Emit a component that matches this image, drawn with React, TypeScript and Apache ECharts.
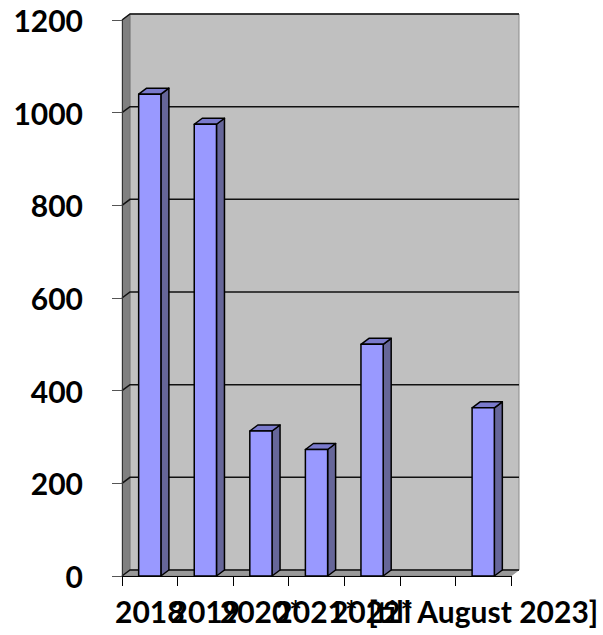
import React, { useEffect, useRef } from "react";
import * as echarts from "echarts";

const categories = ["2018", "2019", "2020*", "2021*", "2022*", "", "[till August 2023]"];
const values: (number | null)[] = [1040, 975, 313, 273, 500, null, 363];
const yTicks = [0, 200, 400, 600, 800, 1000, 1200];

const DX = 8;
const DY = -6;
const FONT = "Lato, 'Open Sans', sans-serif";

export default function App() {
  const ref = useRef<HTMLDivElement>(null);
  useEffect(() => {
    if (!ref.current) return;
    const chart = echarts.init(ref.current, undefined, { renderer: "svg" });
    const barData = values
      .map((v, i) => (v == null ? null : [i, v]))
      .filter((d) => d !== null);
    chart.setOption({
      animation: false,
      backgroundColor: "#ffffff",
      grid: { left: 122, right: 92, top: 20, bottom: 59, containLabel: false },
      xAxis: {
        type: "category",
        data: categories,
        boundaryGap: true,
        z: 5,
        axisLine: { show: true, lineStyle: { color: "#000", width: 1 } },
        axisTick: { show: true, length: 10, alignWithLabel: false, interval: 0, lineStyle: { color: "#000" } },
        axisLabel: {
          interval: 0,
          color: "#000",
          fontSize: 30,
          fontWeight: "bold",
          fontFamily: FONT,
          margin: 20,
        },
        splitLine: { show: false },
      },
      yAxis: {
        type: "value",
        min: 0,
        max: 1200,
        interval: 200,
        z: 5,
        axisLine: { show: true, lineStyle: { color: "#333", width: 1 } },
        axisTick: { show: true, length: 10, lineStyle: { color: "#555" } },
        axisLabel: {
          color: "#000",
          fontSize: 30,
          fontWeight: "bold",
          fontFamily: FONT,
          margin: 39,
          formatter: (v: number) => String(v),
        },
        splitLine: { show: false },
      },
      series: [
        {
          type: "custom",
          name: "walls",
          z: 1,
          clip: false,
          silent: true,
          data: [[0, 0]],
          renderItem: (params: any, api: any) => {
            const cs = params.coordSys;
            const x = cs.x, y = cs.y, w = cs.width, h = cs.height;
            return {
              type: "group",
              children: [
                {
                  type: "rect",
                  shape: { x: x + DX, y: y + DY, width: w, height: h },
                  style: { fill: "#c0c0c0", stroke: "#8a8a8a", lineWidth: 1 },
                },
                {
                  type: "polygon",
                  shape: { points: [[x, y], [x + DX, y + DY], [x + DX, y + h + DY], [x, y + h]] },
                  style: { fill: "#808080", stroke: "#666", lineWidth: 0.5 },
                },
                {
                  type: "polygon",
                  shape: { points: [[x, y + h], [x + DX, y + h + DY], [x + w + DX, y + h + DY], [x + w, y + h]] },
                  style: { fill: "#999999", stroke: "#777", lineWidth: 0.5 },
                },
              ],
            };
          },
        },
        {
          type: "custom",
          name: "gridlines",
          z: 2,
          clip: false,
          silent: true,
          data: yTicks.map((v) => [0, v]),
          renderItem: (params: any, api: any) => {
            const cs = params.coordSys;
            const x = cs.x, w = cs.width;
            const yy = api.coord([0, api.value(1)])[1];
            return {
              type: "polyline",
              shape: { points: [[x, yy], [x + DX, yy + DY], [x + w + DX, yy + DY]] },
              style: { stroke: "#111", lineWidth: 1.5, fill: "none" },
            };
          },
        },
        {
          type: "custom",
          name: "bars",
          z: 3,
          clip: false,
          data: barData,
          renderItem: (params: any, api: any) => {
            const idx = api.value(0);
            const [cx, yTop] = api.coord([idx, api.value(1)]);
            const yBot = api.coord([idx, 0])[1];
            const bw = api.size([1, 0])[0] * 0.4;
            const x0 = cx - bw / 2, x1 = cx + bw / 2;
            const line = { stroke: "#000", lineWidth: 1.5, lineJoin: "round" };
            return {
              type: "group",
              children: [
                {
                  type: "polygon",
                  shape: { points: [[x1, yTop], [x1 + DX, yTop + DY], [x1 + DX, yBot + DY], [x1, yBot]] },
                  style: { fill: "#666699", ...line },
                },
                {
                  type: "polygon",
                  shape: { points: [[x0, yTop], [x0 + DX, yTop + DY], [x1 + DX, yTop + DY], [x1, yTop]] },
                  style: { fill: "#7a7acc", ...line },
                },
                {
                  type: "rect",
                  shape: { x: x0, y: yTop, width: bw, height: yBot - yTop },
                  style: { fill: "#9999ff", ...line },
                },
              ],
            };
          },
        },
      ],
    });
    return () => chart.dispose();
  }, []);
  return (
    <div
      ref={ref}
      style={{ position: "fixed", left: 0, top: 0, width: 603, height: 635 }}
    />
  );
}
